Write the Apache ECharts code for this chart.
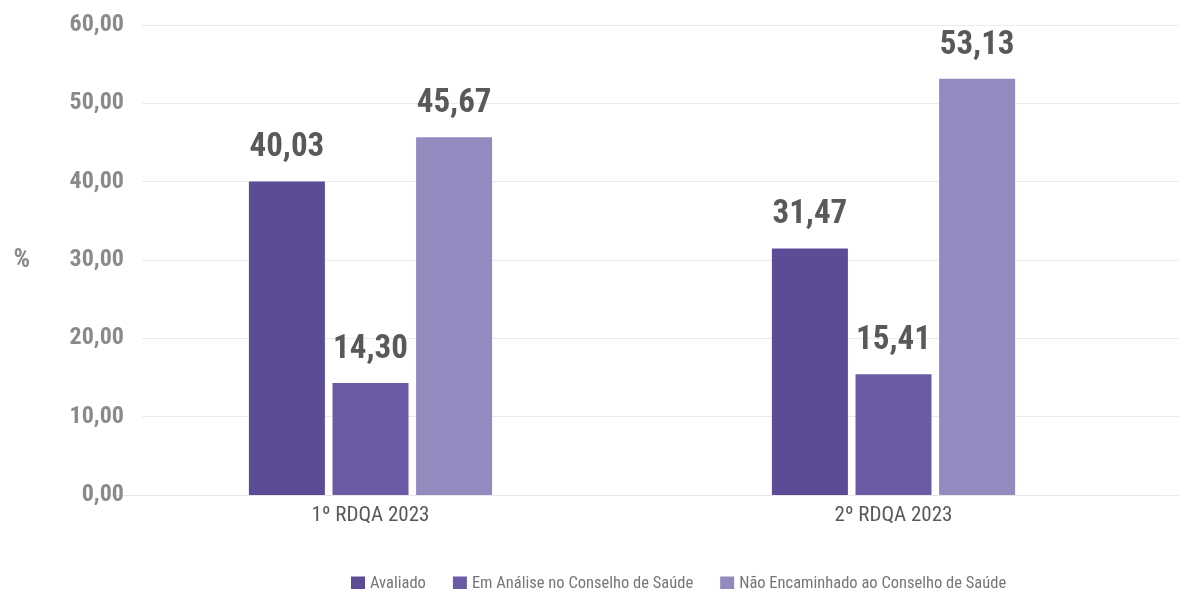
<!DOCTYPE html>
<html>
<head>
<meta charset="utf-8">
<script src="https://cdn.jsdelivr.net/npm/echarts@6/dist/echarts.min.js"></script>
<style>
html,body{margin:0;padding:0;background:#fff;}
#chart{width:1179px;height:589px;}
</style>
</head>
<body>
<div id="chart"></div>
<script>
const categories = ['1º RDQA 2023', '2º RDQA 2023'];
const seriesNames = ['Avaliado', 'Em Análise no Conselho de Saúde', 'Não Encaminhado ao Conselho de Saúde'];
const avaliado = [40.03, 31.47];
const emAnalise = [14.30, 15.41];
const naoEncaminhado = [45.67, 53.13];
const yTicks = [0, 10, 20, 30, 40, 50, 60];
const colors = ['#5c4b96', '#6a5ba4', '#958ac0'];

const FONT = '"Roboto Condensed", "Open Sans Condensed", sans-serif';
const fmt = v => v.toFixed(2).replace('.', ',');

const chart = echarts.init(document.getElementById('chart'));
const seriesData = [avaliado, emAnalise, naoEncaminhado];

chart.setOption({
  animation: false,
  textStyle: { fontFamily: FONT },
  grid: [
    { left: 142, right: 0, top: 25, bottom: 94 },
    { left: 109, right: 24, top: 25, bottom: 94 }
  ],
  legend: {
    data: seriesNames,
    left: 346,
    top: 570,
    itemWidth: 14,
    itemHeight: 14,
    itemGap: 27,
    icon: 'rect',
    textStyle: { color: '#767676', fontSize: 16.5, fontFamily: FONT }
  },
  xAxis: [
    { type: 'value', gridIndex: 0, show: false, min: 0, max: 1 },
    {
      type: 'category', gridIndex: 1, data: categories,
      axisLine: { show: true, lineStyle: { color: '#e6e6e6', width: 1 } },
      axisTick: { show: false },
      axisLabel: { color: '#595959', fontSize: 21, margin: 10, fontFamily: FONT }
    }
  ],
  yAxis: [
    {
      type: 'value', gridIndex: 0, min: yTicks[0], max: yTicks[yTicks.length - 1], interval: 10,
      axisLine: { show: false }, axisTick: { show: false },
      splitLine: { lineStyle: { color: '#ebebeb', width: 1 } },
      axisLabel: { color: '#8a8a8a', fontSize: 24, fontWeight: 'bold', margin: 18, fontFamily: FONT, formatter: v => fmt(v) },
      name: '%', nameLocation: 'middle', nameRotate: 0, nameGap: 112,
      nameTextStyle: { color: '#8a8a8a', fontSize: 26, fontWeight: 'bold', fontFamily: FONT }
    },
    {
      type: 'value', gridIndex: 1, min: yTicks[0], max: yTicks[yTicks.length - 1], interval: 10,
      show: false, splitLine: { show: false }
    }
  ],
  series: seriesData.map((d, i) => ({
    name: seriesNames[i],
    type: 'bar',
    xAxisIndex: 1,
    yAxisIndex: 1,
    data: d,
    barWidth: 76,
    barGap: '10%',
    itemStyle: { color: colors[i] },
    label: {
      show: true, position: 'top', distance: 17,
      color: '#595959', fontSize: 33, fontWeight: 'bold', fontFamily: FONT,
      formatter: p => fmt(p.value)
    }
  }))
});
</script>
</body>
</html>
